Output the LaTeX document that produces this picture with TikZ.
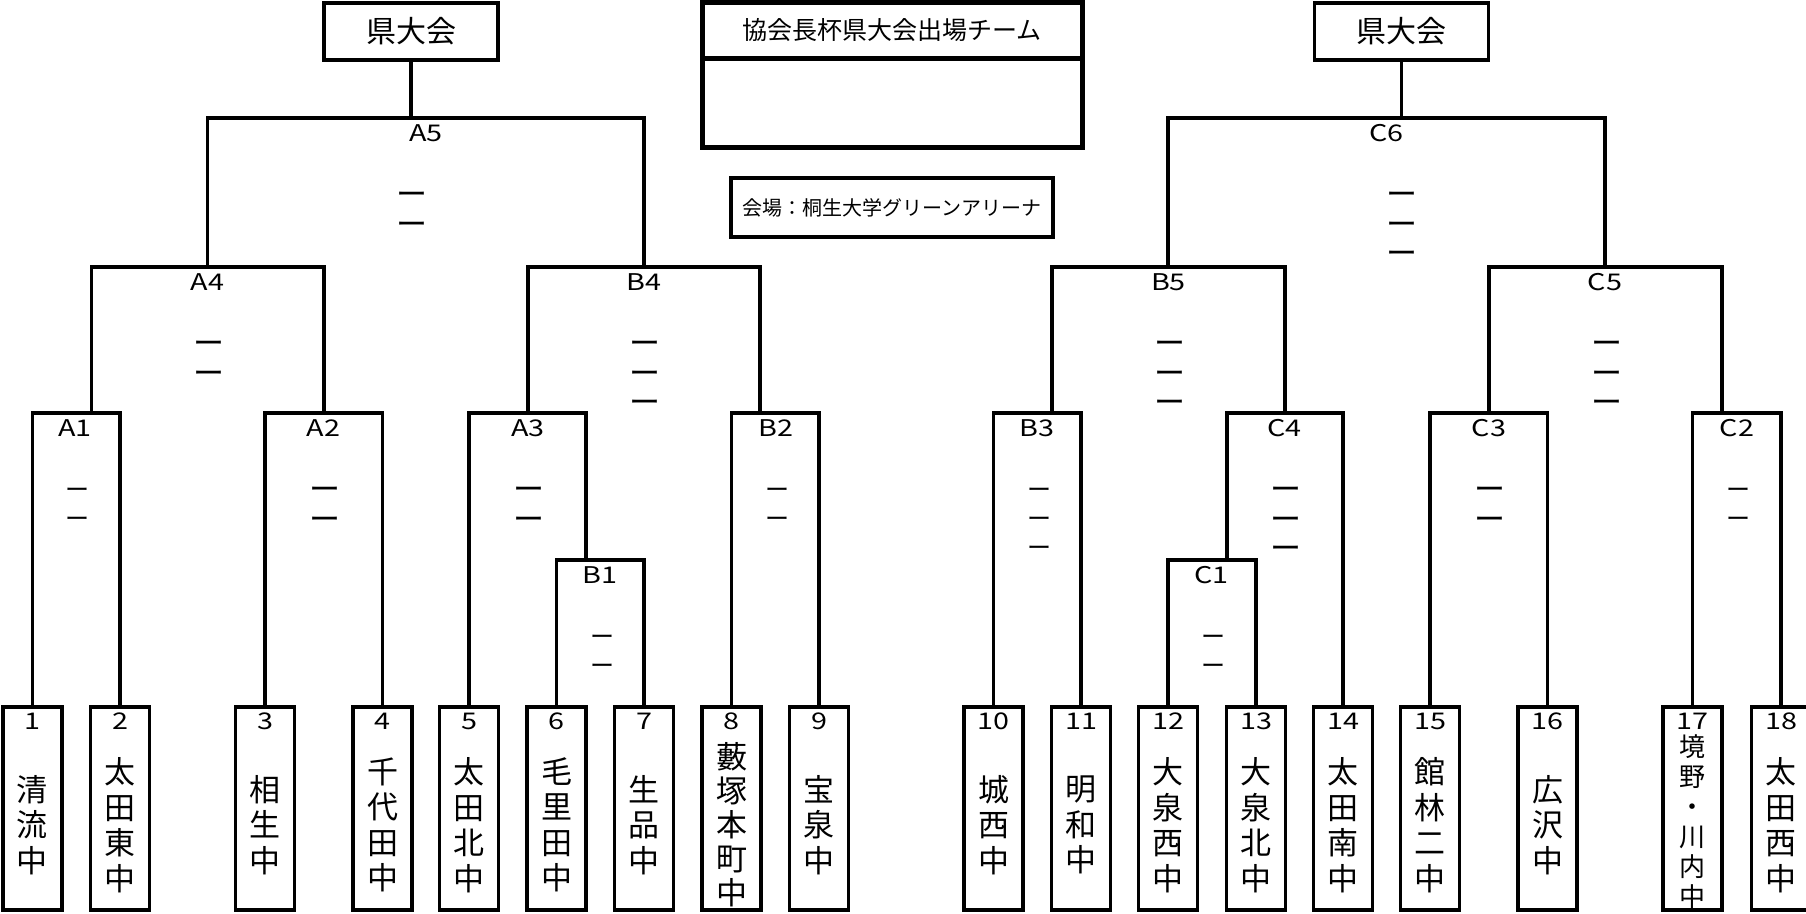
\documentclass[tikz,border=0pt]{standalone}
\usepackage{fontspec}
\setmainfont{Noto Sans CJK JP}
\newfontfamily\latf{Noto Sans CJK JP}[FakeStretch=1.25]
\newcommand\nolsl{\lineskiplimit -100pt\relax}
\newcommand\vfa{\fontsize{15.5}{17.75}\selectfont\nolsl}
\newcommand\vfb{\fontsize{15.5}{17}\selectfont\nolsl}
\newcommand\vfc{\fontsize{13}{15}\selectfont\nolsl}
\newcommand\dcol[5]{%
  \foreach \k in {1,...,#4}{\node[#5] (#1d\k) at (#2,{#3+76+29.3*(\k-1)}) {\vphantom{中}ー};}}
\begin{document}
\begin{tikzpicture}[x=0.5pt,y=-0.5pt,
  br/.style={line width=1.65pt, line join=miter},
  team/.style={draw, line width=1.65pt, minimum width=29.5pt, minimum height=101.5pt, inner sep=0pt, outer sep=0pt},
  num/.style={font=\latf\fontsize{11.5}{13}\selectfont, inner sep=0pt},
  lab/.style={font=\latf\fontsize{11.5}{13}\selectfont, inner sep=0pt},
  vname/.style={font=\vfa, align=center, inner sep=0pt},
  dsm/.style={font=\fontsize{12}{14}\selectfont, inner sep=0pt},
  dlg/.style={font=\fontsize{15.5}{17}\selectfont, inner sep=0pt},
  kbox/.style={draw, line width=1.65pt, minimum width=87pt, minimum height=28.5pt, inner sep=0pt, outer sep=0pt, font=\fontsize{15}{17}\selectfont}]
\useasboundingbox (0,0) rectangle (1806,914);
\fill[white] (0,0) rectangle (1806,914);
\clip (0,0) rectangle (1806,914);

% top boxes
\node[kbox] (kL) at (411,31.5) {県大会};
\node[kbox] (kR) at (1401.5,31.5) {県大会};
\node[draw, line width=2.5pt, minimum width=190pt, minimum height=72.5pt, inner sep=0pt, outer sep=0pt] (cup) at (892,75.5) {};
\coordinate (cdiv) at (892,59);
\draw[line width=2.5pt] (cup.west |- cdiv) -- (cup.east |- cdiv);
\node[font=\fontsize{12.5}{14}\selectfont, inner sep=0pt] (cupt) at (892,30.5) {協会長杯県大会出場チーム};
\node[draw, line width=1.65pt, minimum width=161pt, minimum height=29.5pt, inner sep=0pt, outer sep=0pt, font=\fontsize{10}{12}\selectfont] (venue) at (892,207.5) {会場：桐生大学グリーンアリーナ};

% team boxes
\foreach \n/\cx in {1/32.5,2/120,3/265,4/382.5,5/469,6/556.5,7/644,8/731.5,9/819,10/993.5,11/1081,12/1168,13/1256,14/1343,15/1430,16/1547.5,17/1692.5,18/1781}{
  \node[team] (t\n) at (\cx,808.5) {};
  \node[num] (n\n) at (\cx,721) {\n};
}
\node[vname] (s1) at (32.5,825) {清\\流\\中};
\node[vname] (s2) at (120,825) {太\\田\\東\\中};
\node[vname] (s3) at (265,825) {相\\生\\中};
\node[vname] (s4) at (382.5,825) {千\\代\\田\\中};
\node[vname] (s5) at (469,825) {太\\田\\北\\中};
\node[vname] (s6) at (556.5,825) {毛\\里\\田\\中};
\node[vname] (s7) at (644,825) {生\\品\\中};
\node[vname, font=\vfb] (s8) at (731.5,825) {藪\\塚\\本\\町\\中};
\node[vname] (s9) at (819,825) {宝\\泉\\中};
\node[vname] (s10) at (993.5,825) {城\\西\\中};
\node[vname] (s11) at (1081,825) {明\\和\\中};
\node[vname] (s12) at (1168,825) {大\\泉\\西\\中};
\node[vname] (s13) at (1256,825) {大\\泉\\北\\中};
\node[vname] (s14) at (1343,825) {太\\田\\南\\中};
\node[vname] (s15) at (1430,825) {館\\林\\二\\中};
\node[vname] (s16) at (1547.5,825) {広\\沢\\中};
\node[vname, font=\vfc] (s17) at (1692.5,822) {境\\野\\・\\川\\内\\中};
\node[vname] (s18) at (1781,825) {太\\田\\西\\中};

% junction points
\coordinate (pA5) at (411,118);   \coordinate (pC6) at (1401.5,118);
\coordinate (pA4) at (207.7,267); \coordinate (pB4) at (644,267);
\coordinate (pB5) at (1168,267);  \coordinate (pC5) at (1605,267);
\coordinate (pA1) at (91.5,413);  \coordinate (pA2) at (324,413);
\coordinate (pA3) at (528,413);   \coordinate (pB2) at (760,413);
\coordinate (pB3) at (1052,413);  \coordinate (pC4) at (1285,413);
\coordinate (pC3) at (1489,413);  \coordinate (pC2) at (1722,413);
\coordinate (pB1) at (586,560);   \coordinate (pC1) at (1227,560);

% brackets left
\draw[br] (kL.south) -- (pA5);
\draw[br] (pA4) |- (pA5) -| (pB4);
\draw[br] (pA1) |- (pA4) -| (pA2);
\draw[br] (pA3) |- (pB4) -| (pB2);
\draw[br] (t1.north) |- (pA1) -| (t2.north);
\draw[br] (t3.north) |- (pA2) -| (t4.north);
\draw[br] (t5.north) |- (pA3) -| (pB1);
\draw[br] (t6.north) |- (pB1) -| (t7.north);
\draw[br] (t8.north) |- (pB2) -| (t9.north);
% brackets right
\draw[br] (kR.south) -- (pC6);
\draw[br] (pB5) |- (pC6) -| (pC5);
\draw[br] (pB3) |- (pB5) -| (pC4);
\draw[br] (pC3) |- (pC5) -| (pC2);
\draw[br] (t10.north) |- (pB3) -| (t11.north);
\draw[br] (pC1) |- (pC4) -| (t14.north);
\draw[br] (t12.north) |- (pC1) -| (t13.north);
\draw[br] (t15.north) |- (pC3) -| (t16.north);
\draw[br] (t17.north) |- (pC2) -| (t18.north);

% match labels
\node[lab] (lA5) at (426,133) {A5};
\node[lab] (lC6) at (1386.5,133) {C6};
\node[lab] (lA4) at (207.7,282) {A4};
\node[lab] (lB4) at (644,282) {B4};
\node[lab] (lB5) at (1168.5,282) {B5};
\node[lab] (lC5) at (1605,282) {C5};
\node[lab] (lA1) at (75,428) {A1};
\node[lab] (lA2) at (323.5,428) {A2};
\node[lab] (lA3) at (528,428) {A3};
\node[lab] (lB2) at (776,428) {B2};
\node[lab] (lB3) at (1037,428) {B3};
\node[lab] (lC4) at (1284.5,428) {C4};
\node[lab] (lC3) at (1489,428) {C3};
\node[lab] (lC2) at (1737,428) {C2};
\node[lab] (lB1) at (600,575) {B1};
\node[lab] (lC1) at (1211.5,575) {C1};

% score dashes
\dcol{A5}{412}{118}{2}{dlg}
\dcol{C6}{1402}{118}{3}{dlg}
\dcol{A4}{208.5}{267}{2}{dlg}
\dcol{B4}{645}{267}{3}{dlg}
\dcol{B5}{1170}{267}{3}{dlg}
\dcol{C5}{1606.5}{267}{3}{dlg}
\dcol{A1}{77}{413}{2}{dsm}
\dcol{A2}{325}{413}{2}{dlg}
\dcol{A3}{529}{413}{2}{dlg}
\dcol{B2}{777}{413}{2}{dsm}
\dcol{B3}{1039}{413}{3}{dsm}
\dcol{C4}{1286}{413}{3}{dlg}
\dcol{C3}{1490}{413}{2}{dlg}
\dcol{C2}{1738}{413}{2}{dsm}
\dcol{B1}{602}{560}{2}{dsm}
\dcol{C1}{1213}{560}{2}{dsm}
\end{tikzpicture}
\end{document}
